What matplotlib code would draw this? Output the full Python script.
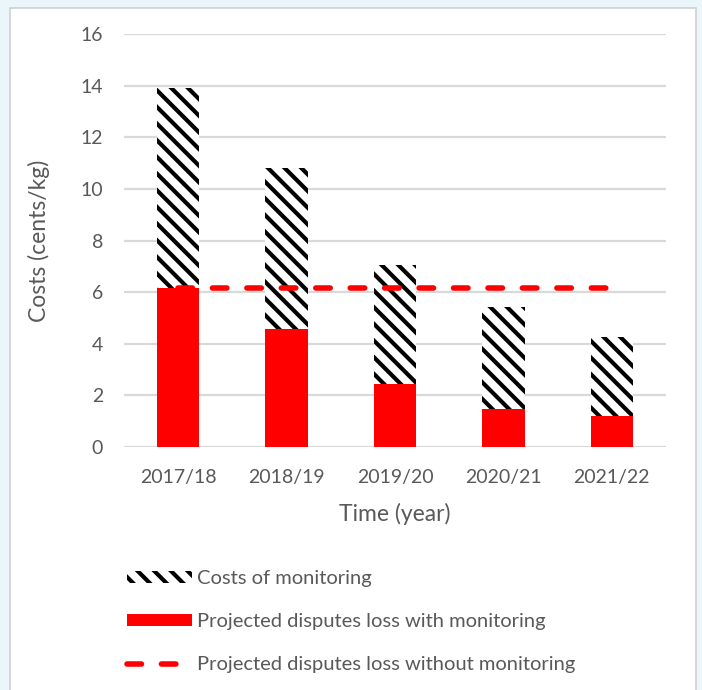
import matplotlib.pyplot as plt
import numpy as np
from matplotlib.patches import Rectangle, Patch
from matplotlib.lines import Line2D

plt.rcParams['font.family'] = ['Lato', 'DejaVu Sans']
plt.rcParams['hatch.linewidth'] = 3.0
plt.rcParams['hatch.color'] = 'black'

years = ['2017/18', '2018/19', '2019/20', '2020/21', '2021/22']
loss_with = [6.15, 4.57, 2.45, 1.47, 1.20]
monitoring = [7.75, 6.23, 4.60, 3.96, 3.06]
loss_without = [6.15, 6.15, 6.15, 6.15, 6.15]

TEXT = '#595959'
DASH = (0, (2.6, 3.6))

fig = plt.figure(figsize=(7.02, 6.9), dpi=100)
fig.patch.set_facecolor('#EAF6F9')
# white chart panel with a thin grey frame
fig.add_artist(Rectangle((10 / 702, -0.05), 686 / 702, 1.05 - 8 / 690,
                         transform=fig.transFigure, facecolor='white',
                         edgecolor='#D0D0D0', linewidth=1.2, zorder=0))

ax = fig.add_axes([124 / 702, 1 - 447 / 690, 542 / 702, 413 / 690])
ax.set_facecolor('none')
x = np.arange(len(years))

ax.bar(x, loss_with, width=0.39, color='#FF0000', zorder=2,
       label='Projected disputes loss with monitoring')
ax.bar(x, monitoring, width=0.39, bottom=loss_with, color='white',
       edgecolor='black', linewidth=0, hatch='\\\\', zorder=2,
       label='Costs of monitoring')
ax.plot(x, loss_without, color='#FF0000', linestyle=DASH,
        linewidth=4, zorder=3, dash_capstyle='round',
        label='Projected disputes loss without monitoring')

ax.set_xlim(-0.5, len(years) - 0.5)
ax.set_ylim(0, 16)
ax.set_yticks(range(0, 17, 2))
ax.set_xticks(x)
ax.set_xticklabels(years)
ax.grid(axis='y', color='#D9D9D9', linewidth=1.6, zorder=0)
ax.set_axisbelow(True)
for s in ax.spines.values():
    s.set_visible(False)
ax.tick_params(length=0, labelsize=14, colors=TEXT, pad=16)
ax.tick_params(axis='y', pad=15)
ax.set_ylabel('Costs (cents/kg)', fontsize=16.5, color=TEXT, labelpad=22)
ax.set_xlabel('Time (year)', fontsize=16.5, color=TEXT, labelpad=12)

handles = [Patch(facecolor='white', edgecolor='black', linewidth=0, hatch='\\\\'),
           Patch(facecolor='#FF0000'),
           Line2D([], [], color='#FF0000', linestyle=DASH, linewidth=4,
                  dash_capstyle='round')]
labels = ['Costs of monitoring',
          'Projected disputes loss with monitoring',
          'Projected disputes loss without monitoring']
leg = fig.legend(handles, labels, loc='upper left',
                 bbox_to_anchor=(109 / 702, 1 - 552 / 690), frameon=False,
                 fontsize=14.5, handlelength=3.2, handleheight=0.55,
                 labelspacing=1.3, handletextpad=0.25)
for t in leg.get_texts():
    t.set_color(TEXT)

fig.savefig('out.png', dpi=100, facecolor=fig.get_facecolor())
